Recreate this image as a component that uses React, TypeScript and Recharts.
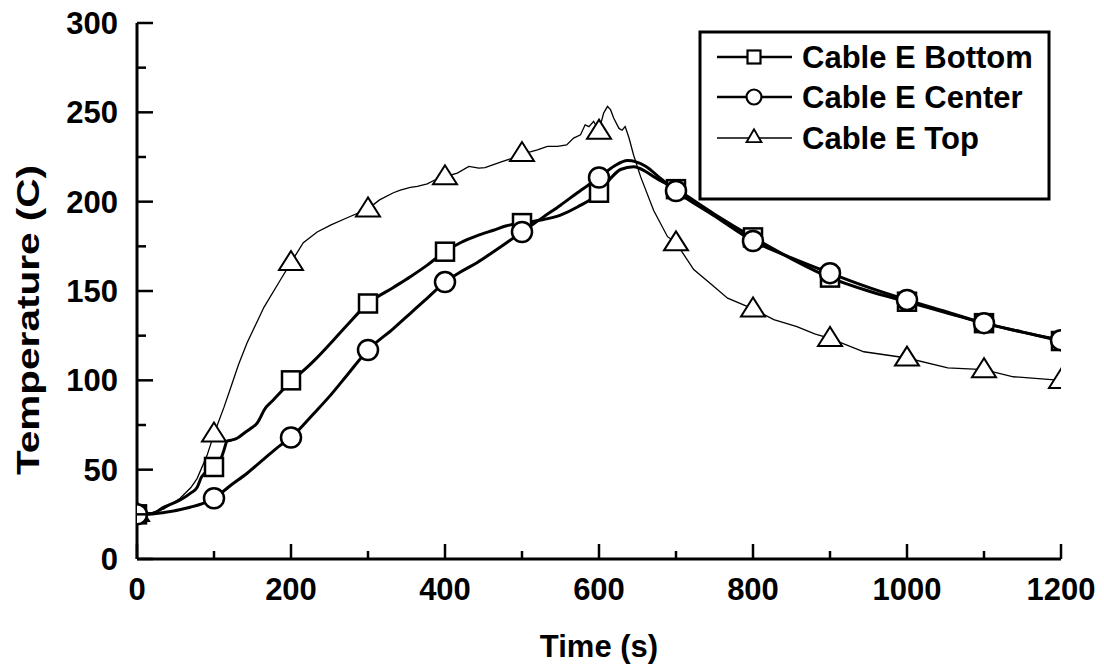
import React from 'react';
import { LineChart, Line, XAxis, YAxis, Customized } from 'recharts';

// ---- data ----
const bottomTimes = [0, 20, 35, 56, 70, 78, 84, 100, 108, 113, 117, 122, 130, 139, 148, 156, 160, 165, 177, 190, 200, 215, 230, 252, 273, 300, 333, 355, 377, 400, 420, 442, 463, 480, 500, 528, 550, 572, 600, 615, 628, 645, 660, 671, 700, 750, 800, 850, 900, 950, 1000, 1050, 1100, 1150, 1200];
const bottomTemps = [25, 25.5, 29, 33, 37, 40, 46, 51.5, 55, 61, 66, 66.5, 67.6, 70.4, 73.2, 76, 79, 83.3, 89, 95, 100, 105, 111, 121, 131, 143, 152, 158, 164.5, 172, 177, 181, 184, 186.5, 188, 190, 192.5, 197, 205, 213, 218, 219.5, 217, 214, 207, 193, 180, 168, 157.5, 150, 144, 138, 132, 127, 122];

const centerTimes = [0, 20, 35, 69, 85, 100, 121, 143, 165, 186, 200, 230, 252, 273, 300, 333, 355, 377, 400, 420, 442, 463, 480, 500, 528, 550, 572, 600, 620, 637, 660, 680, 700, 750, 800, 850, 900, 950, 1000, 1050, 1100, 1150, 1200];
const centerTemps = [25, 25.2, 26, 29, 31, 34, 41, 48, 56, 63.6, 68, 81.6, 92, 103, 117, 129, 137.5, 146, 155, 160.6, 166, 172, 177, 183, 191.5, 198, 205, 213.5, 220, 223, 220, 213, 206, 192, 178, 168.5, 160, 152, 145, 138.5, 132, 127, 122.5];

const topTimes = [0, 20, 35, 56, 70, 78, 91, 100, 113, 121, 132, 143, 165, 186, 200, 216, 234, 252, 273, 300, 315, 333, 342, 355, 364, 377, 386, 400, 416, 431, 444, 452, 462, 475, 488, 500, 512, 520, 533, 546, 558, 567, 576, 582, 587, 593, 600, 606, 611, 615, 619, 626, 630, 634, 639, 645, 654, 671, 689, 700, 723, 745, 767, 800, 827, 857, 880, 900, 944, 1000, 1053, 1100, 1138, 1200];
const topTemps = [25.5, 26, 28, 34, 40, 45, 58, 70, 85, 95, 109, 121, 141, 156, 166, 177, 183, 187, 191, 196, 201, 205, 206.5, 208, 208.5, 210, 212, 214, 216, 219.7, 218.8, 219, 220.6, 222.5, 224.4, 227, 228, 229, 230.9, 230.9, 231.8, 235.6, 237.4, 243, 242, 245, 239.5, 249.6, 253.3, 251.5, 246.8, 241, 240, 242, 235.6, 226, 214, 195, 180.4, 177, 162, 154, 146, 140, 134, 130, 126, 123.5, 116, 112.5, 107, 106, 102, 100];

const xTicks = [0, 100, 200, 300, 400, 500, 600, 700, 800, 900, 1000, 1100, 1200];
const yTicks = [0, 25, 50, 75, 100, 125, 150, 175, 200, 225, 250, 275, 300];

const seriesNames = ['Cable E Bottom', 'Cable E Center', 'Cable E Top'];

const toData = (ts: number[], vs: number[]) => ts.map((t, i) => ({ t, v: vs[i] }));
const bottomData = toData(bottomTimes, bottomTemps);
const centerData = toData(centerTimes, centerTemps);
const topData = toData(topTimes, topTemps);

const FONT = '"Liberation Sans", Arial, Helvetica, sans-serif';

// plot frame (chart margins)
const W = 1104;
const H = 667;
const M_TOP = 23;
const M_RIGHT = 43;
const Y_W = 137;
const X_H = 108;
const PLOT_L = Y_W;
const PLOT_R = W - M_RIGHT;
const PLOT_T = M_TOP;
const PLOT_B = H - X_H;

const isMarker = (p: any) => p && p.payload && p.payload.t % 100 === 0;

const SquareShape = ({ cx, cy, s = 18, sw = 2.5 }: any) => (
  <rect x={cx - s / 2} y={cy - s / 2} width={s} height={s} fill="#fff" stroke="#000" strokeWidth={sw} />
);
const CircleShape = ({ cx, cy, r = 10, sw = 2.5 }: any) => (
  <circle cx={cx} cy={cy} r={r} fill="#fff" stroke="#000" strokeWidth={sw} />
);
const TriangleShape = ({ cx, cy, w = 24, h = 19, sw = 2 }: any) => (
  <polygon
    points={`${cx},${cy - h * 0.6} ${cx - w / 2},${cy + h * 0.4} ${cx + w / 2},${cy + h * 0.4}`}
    fill="#fff"
    stroke="#000"
    strokeWidth={sw}
    strokeLinejoin="miter"
  />
);

const squareDot = (p: any) =>
  isMarker(p) ? <SquareShape key={p.index} cx={p.cx} cy={p.cy} /> : <g key={p.index} />;
const circleDot = (p: any) =>
  isMarker(p) ? <CircleShape key={p.index} cx={p.cx} cy={p.cy} /> : <g key={p.index} />;
const triangleDot = (p: any) =>
  isMarker(p) ? <TriangleShape key={p.index} cx={p.cx} cy={p.cy} /> : <g key={p.index} />;

const BottomTick = (props: any) => {
  const { x, payload } = props;
  const major = payload.value % 200 === 0;
  return (
    <g>
      <line x1={x} y1={PLOT_B} x2={x} y2={PLOT_B - (major ? 15 : 8)} stroke="#000" strokeWidth={2.5} />
      {major && (
        <text x={x} y={PLOT_B + 41} textAnchor="middle" fontFamily={FONT} fontWeight="bold" fontSize={31} fill="#000">
          {payload.value}
        </text>
      )}
    </g>
  );
};
const TopTick = (props: any) => {
  const { x, payload } = props;
  const major = payload.value % 200 === 0;
  return <line x1={x} y1={PLOT_T} x2={x} y2={PLOT_T + (major ? 15 : 8)} stroke="#000" strokeWidth={2.5} />;
};
const LeftTick = (props: any) => {
  const { y, payload } = props;
  const major = payload.value % 50 === 0;
  return (
    <g>
      <line x1={PLOT_L} y1={y} x2={PLOT_L + (major ? 16 : 9)} y2={y} stroke="#000" strokeWidth={2.5} />
      {major && (
        <text x={PLOT_L - 19} y={y + 11} textAnchor="end" fontFamily={FONT} fontWeight="bold" fontSize={31} fill="#000">
          {payload.value}
        </text>
      )}
    </g>
  );
};
const RightTick = (props: any) => {
  const { y, payload } = props;
  const major = payload.value % 50 === 0;
  return <line x1={PLOT_R} y1={y} x2={PLOT_R - (major ? 16 : 9)} y2={y} stroke="#000" strokeWidth={2.5} />;
};

const Overlay = () => {
  const lx1 = 717;
  const lx2 = 792;
  const mx = 754;
  const tx = 802;
  const rows = [57, 97, 138];
  return (
    <g>
      <text x={599} y={657} textAnchor="middle" fontFamily={FONT} fontWeight="bold" fontSize={31} fill="#000">
        Time (s)
      </text>
      <text
        x={39}
        y={320}
        transform="rotate(-90, 39, 320)"
        textAnchor="middle"
        fontFamily={FONT}
        fontWeight="bold"
        fontSize={31}
        fill="#000"
        textLength={310}
        lengthAdjust="spacingAndGlyphs"
      >
        Temperature (C)
      </text>
      <rect x={700} y={32} width={349} height={167} fill="#fff" stroke="#000" strokeWidth={3} />
      <line x1={lx1} y1={rows[0]} x2={lx2} y2={rows[0]} stroke="#000" strokeWidth={2.5} />
      <SquareShape cx={mx} cy={rows[0]} s={13} sw={2.2} />
      <line x1={lx1} y1={rows[1]} x2={lx2} y2={rows[1]} stroke="#000" strokeWidth={2.5} />
      <CircleShape cx={mx} cy={rows[1]} r={7.5} sw={2.2} />
      <line x1={lx1} y1={rows[2]} x2={lx2} y2={rows[2]} stroke="#000" strokeWidth={1.3} />
      <TriangleShape cx={mx} cy={rows[2] - 1} w={15} h={13} sw={1.8} />
      {seriesNames.map((n, i) => (
        <text key={n} x={tx} y={rows[i] + 11} fontFamily={FONT} fontWeight="bold" fontSize={31} fill="#000">
          {n}
        </text>
      ))}
    </g>
  );
};

export default function App() {
  return (
    <div style={{ position: 'absolute', left: 0, top: 0, width: W, height: H, background: '#fff' }}>
      <LineChart width={W} height={H} margin={{ top: M_TOP, right: M_RIGHT, bottom: 0, left: 0 }}>
        <XAxis
          xAxisId={0}
          type="number"
          dataKey="t"
          domain={[0, 1200]}
          ticks={xTicks}
          allowDataOverflow
          height={X_H}
          tickLine={false}
          tick={<BottomTick />}
          axisLine={{ stroke: '#000', strokeWidth: 3 }}
          interval={0}
        />
        <XAxis
          xAxisId="top"
          orientation="top"
          type="number"
          dataKey="t"
          domain={[0, 1200]}
          ticks={xTicks}
          allowDataOverflow
          height={0}
          tickLine={false}
          tick={<TopTick />}
          axisLine={{ stroke: '#000', strokeWidth: 3 }}
          interval={0}
        />
        <YAxis
          yAxisId={0}
          type="number"
          domain={[0, 300]}
          ticks={yTicks}
          allowDataOverflow
          width={Y_W}
          tickLine={false}
          tick={<LeftTick />}
          axisLine={{ stroke: '#000', strokeWidth: 3 }}
          interval={0}
        />
        <YAxis
          yAxisId="right"
          orientation="right"
          type="number"
          domain={[0, 300]}
          ticks={yTicks}
          allowDataOverflow
          width={0}
          tickLine={false}
          tick={<RightTick />}
          axisLine={{ stroke: '#000', strokeWidth: 3 }}
          interval={0}
        />
        <Line
          data={topData}
          dataKey="v"
          name={seriesNames[2]}
          type="linear"
          stroke="#000"
          strokeWidth={1.3}
          dot={triangleDot}
          activeDot={false}
          isAnimationActive={false}
        />
        <Line
          data={bottomData}
          dataKey="v"
          name={seriesNames[0]}
          type="monotone"
          stroke="#000"
          strokeWidth={3}
          dot={squareDot}
          activeDot={false}
          isAnimationActive={false}
        />
        <Line
          data={centerData}
          dataKey="v"
          name={seriesNames[1]}
          type="monotone"
          stroke="#000"
          strokeWidth={3}
          dot={circleDot}
          activeDot={false}
          isAnimationActive={false}
        />
        <Customized component={Overlay} />
      </LineChart>
    </div>
  );
}
